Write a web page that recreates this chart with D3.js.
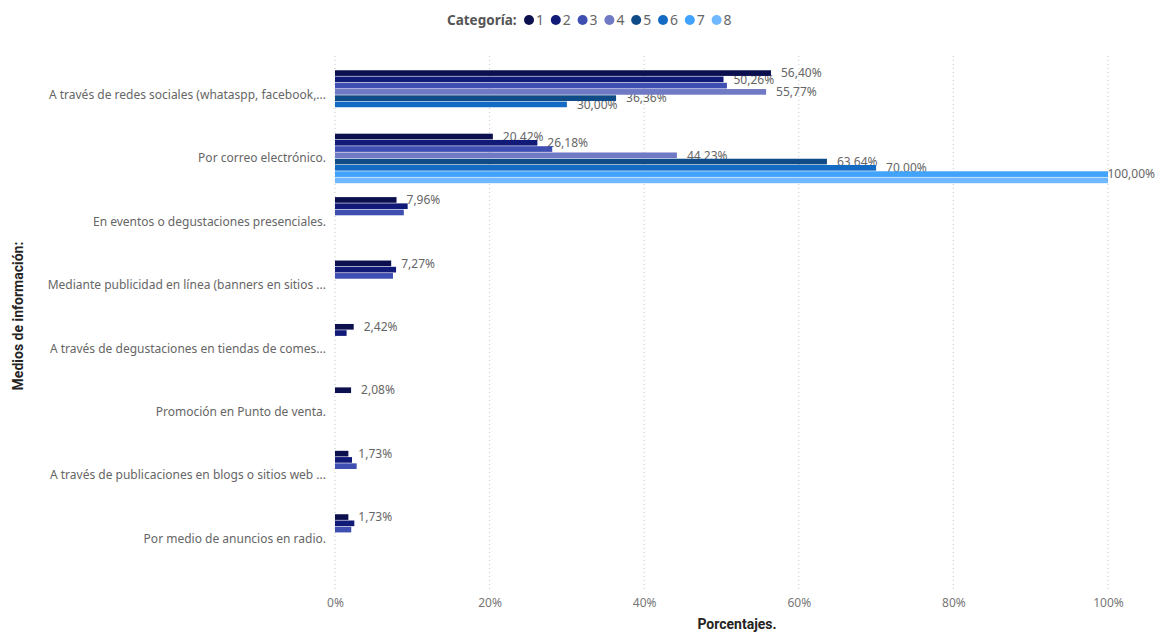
<!DOCTYPE html>
<html>
<head>
<meta charset="utf-8">
<script src="https://cdn.jsdelivr.net/npm/d3@7"></script>
<style>
  html, body { margin: 0; padding: 0; background: #fff; }
  svg { display: block; }
  text { font-family: "Segoe UI", "Noto Sans", "Open Sans", sans-serif; }
</style>
</head>
<body>
<svg id="chart" width="1157" height="633"></svg>
<script>
// Medios de información por categoría (porcentajes)
const categories = [
  "A través de redes sociales (whataspp, facebook,...",
  "Por correo electrónico.",
  "En eventos o degustaciones presenciales.",
  "Mediante publicidad en línea (banners en sitios ...",
  "A través de degustaciones en tiendas de comes...",
  "Promoción en Punto de venta.",
  "A través de publicaciones en blogs o sitios web ...",
  "Por medio de anuncios en radio."
];
const seriesNames = ["1", "2", "3", "4", "5", "6", "7", "8"];

// one array per category: value for series 1..8 (null = no bar)
const redesSociales   = [56.40, 50.26, 50.70, 55.77, 36.36, 30.00, null, null];
const correo          = [20.42, 26.18, 28.10, 44.23, 63.64, 70.00, 100.00, 100.00];
const eventos         = [7.96, 9.40, 8.90, null, null, null, null, null];
const publicidadLinea = [7.27, 7.90, 7.50, null, null, null, null, null];
const tiendas         = [2.42, 1.50, null, null, null, null, null, null];
const puntoVenta      = [2.08, null, null, null, null, null, null, null];
const blogs           = [1.73, 2.20, 2.80, null, null, null, null, null];
const radio           = [1.73, 2.50, 2.10, null, null, null, null, null];
const values = [redesSociales, correo, eventos, publicidadLinea, tiendas, puntoVenta, blogs, radio];

const xTicks = [0, 20, 40, 60, 80, 100];
const colors = ["#0c104f", "#121a78", "#3e4eb1", "#6f79c4", "#0f4b86", "#136bc3", "#41a3fb", "#70b8ff"];

const W = 1157;
const svg = d3.select("#chart");

const x = d3.scaleLinear().domain([0, 100]).range([335, 1108]);
const y = d3.scaleBand().domain(categories).range([63.3, 570.7]).paddingInner(0.21).paddingOuter(0.105);
const ySub = d3.scaleBand().domain(seriesNames).range([0, y.bandwidth()]);
const color = d3.scaleOrdinal().domain(seriesNames).range(colors);

// gridlines
svg.append("g")
  .selectAll("line")
  .data(xTicks)
  .join("line")
  .attr("x1", d => x(d)).attr("x2", d => x(d))
  .attr("y1", 56).attr("y2", 592)
  .attr("stroke", "#c8c8c8")
  .attr("stroke-width", 1)
  .attr("stroke-dasharray", "1,3");

// x axis labels
const xAxis = d3.axisBottom(x).tickValues(xTicks).tickFormat(d => d + "%").tickSize(0).tickPadding(0);
const gx = svg.append("g").attr("transform", "translate(0,598)").call(xAxis);
gx.select(".domain").remove();
gx.selectAll("text").attr("fill", "#777").attr("font-size", 12).attr("dy", "0.71em");

// y axis labels
const yAxis = d3.axisLeft(y).tickSize(0).tickPadding(9);
const gy = svg.append("g").attr("transform", "translate(335,0)").call(yAxis);
gy.select(".domain").remove();
gy.selectAll("text").attr("fill", "#666").attr("font-size", 12);

// axis titles
svg.append("text")
  .attr("x", 737).attr("y", 629)
  .attr("text-anchor", "middle")
  .attr("font-size", 14).attr("font-weight", "bold").attr("fill", "#252423")
  .style("font-family", "Roboto, 'Noto Sans', sans-serif")
  .text("Porcentajes.");

svg.append("text")
  .attr("transform", "translate(23,316) rotate(-90)")
  .attr("text-anchor", "middle")
  .attr("font-size", 14).attr("font-weight", "bold").attr("fill", "#252423")
  .style("font-family", "Roboto, 'Noto Sans', sans-serif")
  .text("Medios de información:");

// flatten bars
const bars = [];
categories.forEach((c, ci) => {
  values[ci].forEach((v, si) => {
    if (v !== null) bars.push({ cat: c, series: seriesNames[si], value: v });
  });
});

const fmt = v => v.toFixed(2).replace(".", ",") + "%";

// data labels: placed to the right of each bar, hidden when they collide with one already shown
const labelLayer = svg.append("g");
const placed = [];
bars.forEach(b => {
  const cy = y(b.cat) + ySub(b.series) + ySub.bandwidth() / 2;
  const t = labelLayer.append("text")
    .attr("x", x(b.value) + 10)
    .attr("y", cy)
    .attr("dy", "0.35em")
    .attr("font-size", 12)
    .attr("fill", "#666")
    .text(fmt(b.value));
  let bb = t.node().getBBox();
  // keep the label inside the drawing area
  if (bb.x + bb.width > W - 2) {
    t.attr("x", W - 2 - bb.width);
    bb = t.node().getBBox();
  }
  const box = { x0: bb.x, x1: bb.x + bb.width, y0: cy - 6.5, y1: cy + 6.5, cat: b.cat };
  const hit = placed.some(p => p.cat === box.cat && p.x0 < box.x1 && box.x0 < p.x1 && p.y0 < box.y1 && box.y0 < p.y1);
  if (hit) t.remove(); else placed.push(box);
});

// bars
svg.append("g")
  .selectAll("rect")
  .data(bars)
  .join("rect")
  .attr("x", x(0))
  .attr("y", d => y(d.cat) + ySub(d.series) + 0.3)
  .attr("width", d => x(d.value) - x(0))
  .attr("height", ySub.bandwidth() - 0.6)
  .attr("fill", d => color(d.series));

// legend
const legend = svg.append("g");
legend.append("text")
  .attr("x", 447).attr("y", 20)
  .attr("dy", "0.35em")
  .attr("font-size", 13.5).attr("font-weight", "bold").attr("fill", "#555")
  .text("Categoría:");
const items = legend.selectAll("g.item")
  .data(seriesNames)
  .join("g")
  .attr("class", "item")
  .attr("transform", (d, i) => `translate(${529 + i * 26.8},20)`);
items.append("circle").attr("r", 5).attr("fill", d => color(d));
items.append("text")
  .attr("x", 7).attr("dy", "0.35em")
  .attr("font-size", 14).attr("fill", "#666")
  .text(d => d);
</script>
</body>
</html>
